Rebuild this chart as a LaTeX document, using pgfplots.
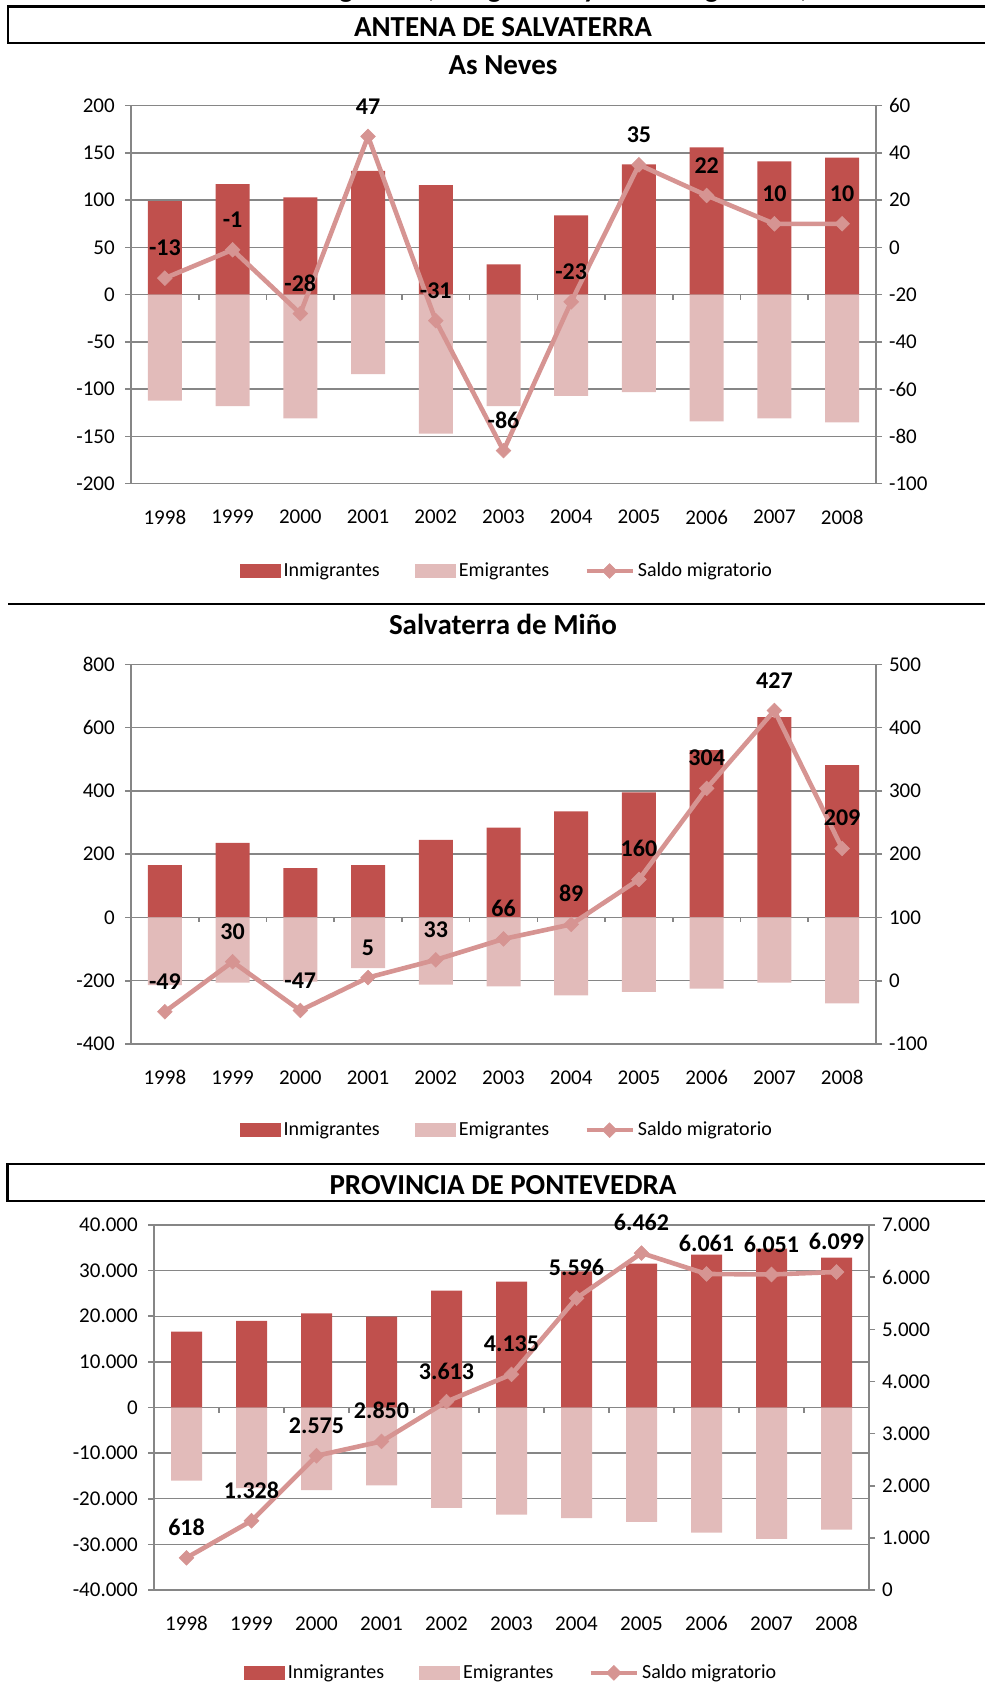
\documentclass[border=0pt]{standalone}
\usepackage{fontspec}
\setmainfont{Carlito}
\usepackage{pgfplots}
\pgfplotsset{compat=1.18}
\definecolor{inmig}{RGB}{192,80,77}
\definecolor{emig}{RGB}{226,187,186}
\definecolor{saldo}{RGB}{214,148,146}
\definecolor{axisgray}{RGB}{134,134,134}
\newcommand\lblfont{\bfseries\fontsize{12}{14}\selectfont}
\newcommand\tickfont{\fontsize{10.5}{12}\selectfont}
\newcommand\legfont{\fontsize{10}{12}\selectfont}
\newcommand\titfont{\bfseries\fontsize{14.5}{17}\selectfont}
\pgfplotsset{
  common/.style={
    scale only axis, anchor=north west,
    xmin=-0.5, xmax=10.5,
    tick align=outside, major tick length=3pt,
    tick label style={font=\tickfont, text=black},
    /pgf/number format/assume math mode=true,
    /pgf/number format/1000 sep={.},
    scaled y ticks=false,
    y axis line style={axisgray, line width=0.8pt},
    ytick style={axisgray, line width=0.8pt},
  },
  barax/.style={common,
    axis x line*=bottom, axis y line*=left,
    x axis line style={draw=none},
    xtick={0,...,10},
    xticklabels={1998,1999,2000,2001,2002,2003,2004,2005,2006,2007,2008},
    xtick style={draw=none},
    xticklabel style={yshift=-6.75pt},
    yticklabel style={xshift=-1.6pt},
    ymajorgrids, grid style={axisgray, line width=0.7pt},
    ybar, bar width=17pt,
  },
  lineax/.style={common,
    axis x line=none, axis y line*=right,
    clip=false,
    legend columns=3,
    legend style={draw=none, fill=none, anchor=center, font=\legfont,
      nodes={inner xsep=1.5pt, inner ysep=1pt},
      /tikz/every even column/.append style={column sep=16pt}},
    every node near coord/.append style={font=\lblfont, text=black, anchor=south, inner sep=0pt, yshift=11pt},
  },
  swatch/.style={legend image code/.code={\fill[##1, draw=none] (0pt,-3.6pt) rectangle (20.5pt,3.6pt);}},
  saldoline/.style={color=saldo, line width=2.3pt, mark=square*, mark size=2.6pt,
     mark options={rotate=45, solid, fill=saldo, draw=saldo, line width=0.3pt},
     legend image code/.code={\draw[mark repeat=2, mark phase=2, ##1] plot coordinates {(0pt,0pt) (11.5pt,0pt) (23pt,0pt)};}},
}
\begin{document}
\begin{tikzpicture}
% cut-off heading and frames
\node[anchor=base west, font=\titfont, inner sep=0pt] at (142.5pt,1pt) {Inmigrantes, emigrantes y saldo migratorio, 1998-2008};
\draw[line width=1.2pt] (4pt,-3.35pt) rectangle (515pt,-21.5pt);
\node[anchor=base, font=\titfont, inner sep=0pt] at (251.5pt,-18.3pt) {ANTENA DE SALVATERRA};
\node[anchor=base, font=\titfont, inner sep=0pt] at (251.5pt,-37.2pt) {As Neves};
\draw[line width=1.2pt] (4pt,-302pt) -- (515pt,-302pt);
\node[anchor=base, font=\titfont, inner sep=0pt] at (251.5pt,-317pt) {Salvaterra de Miño};
\draw[line width=1.2pt] (3.75pt,-582pt) rectangle (515pt,-600.35pt);
\node[anchor=base, font=\titfont, inner sep=0pt] at (251.5pt,-597pt) {PROVINCIA DE PONTEVEDRA};

% ---------- Chart 1: As Neves ----------
\begin{axis}[barax, at={(65.5pt,-52.85pt)}, width=372.5pt, height=189pt,
  ymin=-200, ymax=200, ytick={-200,-150,...,200}]
\addplot[fill=inmig, draw=none, bar shift=0pt] coordinates {(0,99) (1,117) (2,103) (3,131) (4,116) (5,32) (6,84) (7,138) (8,156) (9,141) (10,145)};
\addplot[fill=emig, draw=none, bar shift=0pt] coordinates {(0,-112) (1,-118) (2,-131) (3,-84) (4,-147) (5,-118) (6,-107) (7,-103) (8,-134) (9,-131) (10,-135)};
\pgfplotsinvokeforeach{0.5,1.5,2.5,3.5,4.5,5.5,6.5,7.5,8.5,9.5}{\draw[axisgray, line width=0.8pt] (axis cs:#1,0) -- ([yshift=-2.5pt]axis cs:#1,0);}
\end{axis}
\begin{axis}[lineax, at={(65.5pt,-52.85pt)}, width=372.5pt, height=189pt,
  ymin=-100, ymax=60, ytick={-100,-80,...,60},
  legend style={at={(0.505,-0.231)}}]
\addlegendimage{swatch, fill=inmig}\addlegendentry{Inmigrantes}
\addlegendimage{swatch, fill=emig}\addlegendentry{Emigrantes}
\addplot[saldoline, nodes near coords] coordinates {(0,-13) (1,-1) (2,-28) (3,47) (4,-31) (5,-86) (6,-23) (7,35) (8,22) (9,10) (10,10)};
\addlegendentry{Saldo migratorio}
\end{axis}

% ---------- Chart 2: Salvaterra de Miño ----------
\begin{axis}[barax, at={(65.5pt,-332.15pt)}, width=372.5pt, height=189.85pt,
  ymin=-400, ymax=800, ytick={-400,-200,...,800}]
\addplot[fill=inmig, draw=none, bar shift=0pt] coordinates {(0,165) (1,236) (2,156) (3,165) (4,245) (5,284) (6,335) (7,395) (8,529) (9,633) (10,481)};
\addplot[fill=emig, draw=none, bar shift=0pt] coordinates {(0,-214) (1,-206) (2,-203) (3,-160) (4,-212) (5,-218) (6,-246) (7,-235) (8,-225) (9,-206) (10,-272)};
\pgfplotsinvokeforeach{0.5,1.5,2.5,3.5,4.5,5.5,6.5,7.5,8.5,9.5}{\draw[axisgray, line width=0.8pt] (axis cs:#1,0) -- ([yshift=-2.5pt]axis cs:#1,0);}
\end{axis}
\begin{axis}[lineax, at={(65.5pt,-332.15pt)}, width=372.5pt, height=189.85pt,
  ymin=-100, ymax=500, ytick={-100,0,...,500},
  legend style={at={(0.505,-0.227)}}]
\addlegendimage{swatch, fill=inmig}\addlegendentry{Inmigrantes}
\addlegendimage{swatch, fill=emig}\addlegendentry{Emigrantes}
\addplot[saldoline, nodes near coords] coordinates {(0,-49) (1,30) (2,-47) (3,5) (4,33) (5,66) (6,89) (7,160) (8,304) (9,427) (10,209)};
\addlegendentry{Saldo migratorio}
\end{axis}

% ---------- Chart 3: Provincia de Pontevedra ----------
\begin{axis}[barax, at={(77pt,-612.5pt)}, width=357.5pt, height=182.5pt, bar width=15.5pt,
  ymin=-40000, ymax=40000, ytick={-40000,-30000,...,40000}]
\addplot[fill=inmig, draw=none, bar shift=0pt] coordinates {(0,16640) (1,18980) (2,20660) (3,19900) (4,25620) (5,27590) (6,29830) (7,31530) (8,33500) (9,34820) (10,32850)};
\addplot[fill=emig, draw=none, bar shift=0pt] coordinates {(0,-16022) (1,-17652) (2,-18085) (3,-17050) (4,-22007) (5,-23455) (6,-24234) (7,-25068) (8,-27439) (9,-28769) (10,-26751)};
\pgfplotsinvokeforeach{0.5,1.5,2.5,3.5,4.5,5.5,6.5,7.5,8.5,9.5}{\draw[axisgray, line width=0.8pt] (axis cs:#1,0) -- ([yshift=-2.5pt]axis cs:#1,0);}
\end{axis}
\begin{axis}[lineax, at={(77pt,-612.5pt)}, width=357.5pt, height=182.5pt,
  ymin=0, ymax=7000, ytick={0,1000,...,7000},
  legend style={at={(0.5,-0.227)}}]
\addlegendimage{swatch, fill=inmig}\addlegendentry{Inmigrantes}
\addlegendimage{swatch, fill=emig}\addlegendentry{Emigrantes}
\addplot[saldoline, nodes near coords] coordinates {(0,618) (1,1328) (2,2575) (3,2850) (4,3613) (5,4135) (6,5596) (7,6462) (8,6061) (9,6051) (10,6099)};
\addlegendentry{Saldo migratorio}
\end{axis}

\pgfresetboundingbox
\useasboundingbox (0pt,0pt) rectangle (492pt,-850pt);
\end{tikzpicture}
\end{document}
